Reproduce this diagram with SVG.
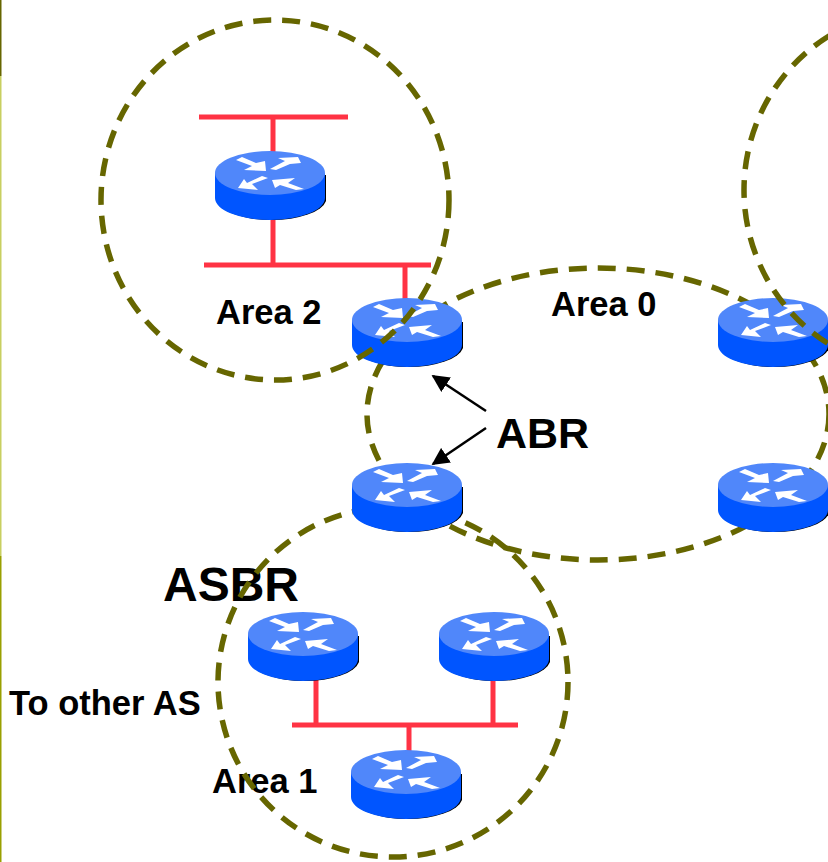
<svg xmlns="http://www.w3.org/2000/svg" width="828" height="862" viewBox="0 0 828 862">
<style>
.lan{stroke:#ff3344;stroke-width:5;fill:none}
.area{fill:none;stroke:#666600;stroke-width:5.5;stroke-dasharray:18 11}
.lbl{font-family:"Liberation Sans",Arial,sans-serif;font-weight:bold;fill:#000}
.s{font-size:34.5px}
.abr{font-size:43px}
.asbr{font-size:48px}
.ar{stroke:#000;stroke-width:2.5;fill:none}
</style>
<defs>
<marker id="ah" viewBox="0 0 10 10" refX="9" refY="5" markerWidth="7" markerHeight="7" orient="auto-start-reverse" markerUnits="strokeWidth"><path d="M0 0L10 5L0 10Z" fill="#000"/></marker>
<symbol id="router" overflow="visible" viewBox="-60 -30 120 90" width="120" height="90">
<path d="M-53 2V28A55 22 0 0 0 56 28V2Z" fill="#000"/>
<path d="M-55 0V25A55 22 0 0 0 55 25V0Z" fill="#0055ff"/>
<ellipse cx="0" cy="0" rx="55" ry="22" fill="#5087fa"/>
<g fill="#fff">
<path d="M-34-13L-28-16L-14-10L-5-12L-4-2L-26-3L-18-7Z"/>
<path d="M0-4L6-3L20-9L31-10L28-16L8-15L15-12Z"/>
<path d="M-32 15L-12 17L-18 11L-2 5L-8 3L-23 10L-26 6Z"/>
<path d="M2 7L5 15L10 12L26 17L34 16L18 10L25 5Z"/>
</g>
</symbol>
</defs>
<g id="stripe">
<rect x="0" y="0" width="1.5" height="76" fill="#666600"/>
<rect x="0" y="76" width="1.5" height="480" fill="#c8cf60"/>
<rect x="0" y="556" width="1.5" height="306" fill="#99a000"/>
</g>
<g id="lans">
<path class="lan" d="M199 117H348M273 117V155M273 215V265M204 265H431M405 265V300M292 725H518M316 680V725M493 680V725M409 725V755"/>
</g>
<g id="labels">
<text class="lbl s" x="216" y="324">Area 2</text>
<text class="lbl s" x="551" y="316">Area 0</text>
<text class="lbl s" x="212" y="793">Area 1</text>
<text class="lbl s" x="9" y="715">To other AS</text>
<text class="lbl abr" x="496" y="448">ABR</text>
<text class="lbl asbr" x="163" y="601">ASBR</text>
</g>
<g id="areas-under">
<ellipse class="area" cx="598" cy="414" rx="231" ry="146"/>
<ellipse class="area" cx="393" cy="682" rx="175" ry="175"/>
</g>
<g id="r1"><use href="#router" x="210" y="143"/></g>
<g id="r2"><use href="#router" x="347" y="290"/></g>
<g id="r3"><use href="#router" x="713" y="290"/></g>
<g id="r4"><use href="#router" x="347" y="455"/></g>
<g id="r5"><use href="#router" x="713" y="455"/></g>
<g id="r6"><use href="#router" x="243" y="604"/></g>
<g id="r7"><use href="#router" x="434" y="604"/></g>
<g id="r8"><use href="#router" x="346" y="742"/></g>
<g id="connectors">
<ellipse class="area" cx="275" cy="200" rx="174" ry="180"/>
<ellipse class="area" cx="920" cy="190" rx="176" ry="180"/>
<path class="ar" marker-end="url(#ah)" d="M486 411L433 376"/>
<path class="ar" marker-end="url(#ah)" d="M486 428L433 464"/>
</g>
</svg>
